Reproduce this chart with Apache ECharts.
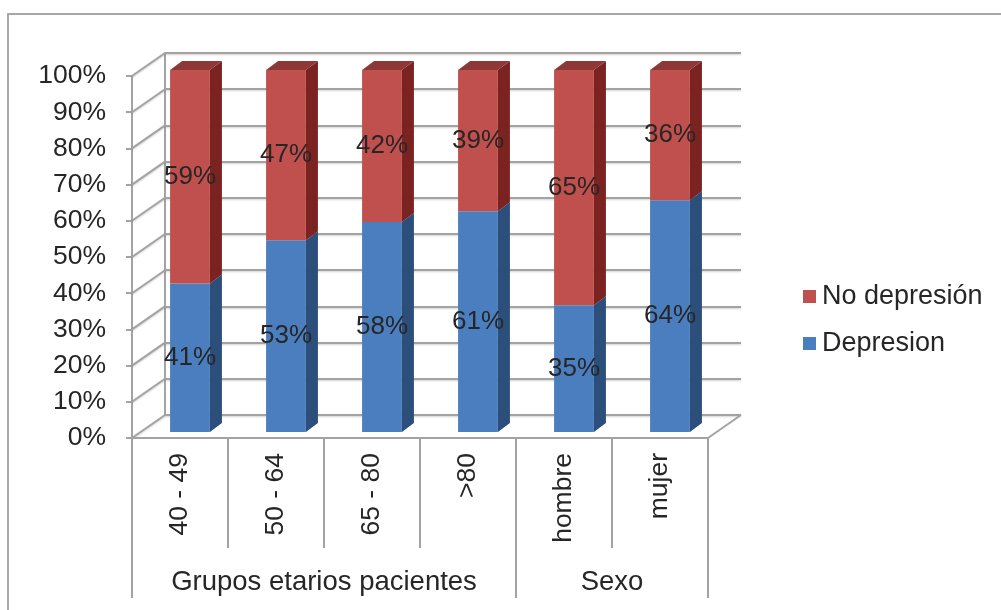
<!DOCTYPE html>
<html>
<head>
<meta charset="utf-8">
<script src="https://cdn.jsdelivr.net/npm/echarts@6/dist/echarts.min.js"></script>
<style>
  html, body { margin: 0; padding: 0; background: #ffffff; }
  #chart { width: 1001px; height: 610px; }
</style>
</head>
<body>
<div id="chart"></div>
<script>
// Categories and the two groups they belong to
const categories = ['40 - 49', '50 - 64', '65 - 80', '>80', 'hombre', 'mujer'];
const groupNames = ['Grupos etarios pacientes', 'Sexo'];
const groupSizes = [4, 2];

// Share of patients (%) per category
const depresion = [41, 53, 58, 61, 35, 64];
const noDepresion = [59, 47, 42, 39, 65, 36];

// Value axis ticks (%)
const yMin = 0, yMax = 100, yStep = 10;

// Styling
const FONT = '"Liberation Sans", Arial, sans-serif';
const TEXT = '#262626';
const GRID_GRAY = '#a3a3a3';
const RED = { front: '#C0504D', side: '#7A2320', top: '#8E3835' };
const BLUE = { front: '#4A7EBF', side: '#2C4E7A', top: '#3A6499' };

// Pseudo-3D depth of the plot box and of each bar
const DEPTH_X = 33, DEPTH_Y = -23;
const FACE_DX = 10, FACE_DY = -6;
const SIDE_DX = 12, SIDE_DY = -9;
const BAR_FRAC = 0.415;

// Group boundaries and centres on a 0..N scale
const groupBounds = [0];
const groupCentres = [];
groupSizes.forEach(n => {
  const start = groupBounds[groupBounds.length - 1];
  groupCentres.push(start + n / 2);
  groupBounds.push(start + n);
});

const yTicks = [];
for (let v = yMin; v <= yMax; v += yStep) yTicks.push(v);

const gridLine = {
  color: GRID_GRAY, width: 2,
  shadowColor: 'rgba(0,0,0,0.18)', shadowBlur: 2, shadowOffsetY: 1
};

function barItem(colors, isTopSegment) {
  return function (params, api) {
    const i = api.value(0), lo = api.value(1), val = api.value(2);
    const band = api.size([1, 0])[0];
    const w = band * BAR_FRAC;
    const pB = api.coord([i, lo]);
    const pT = api.coord([i, lo + val]);
    const xl = pB[0] - w / 2 + FACE_DX, xr = xl + w;
    const yb = pB[1] + FACE_DY, yt = pT[1] + FACE_DY;
    const children = [
      { type: 'polygon', shape: { points: [[xr, yt], [xr + SIDE_DX, yt + SIDE_DY], [xr + SIDE_DX, yb + SIDE_DY], [xr, yb]] },
        style: { fill: colors.side } },
      { type: 'rect', shape: { x: xl, y: yt, width: w, height: yb - yt },
        style: { fill: colors.front } }
    ];
    if (isTopSegment) {
      children.push({ type: 'polygon',
        shape: { points: [[xl, yt], [xl + SIDE_DX, yt + SIDE_DY], [xr + SIDE_DX, yt + SIDE_DY], [xr, yt]] },
        style: { fill: colors.top } });
    }
    children.push({ type: 'text', z2: 10,
      style: { text: val + '%', x: (xl + xr) / 2, y: (yt + yb) / 2, align: 'center', verticalAlign: 'middle',
               fill: TEXT, font: '26px ' + FONT } });
    return { type: 'group', children };
  };
}

// Side-wall lines and the floor outline
function roomItem(params, api) {
  const v = api.value(0);
  const children = [];
  const p = api.coord([0, v]);
  children.push({ type: 'line', shape: { x1: p[0], y1: p[1], x2: p[0] + DEPTH_X, y2: p[1] + DEPTH_Y },
    style: { stroke: GRID_GRAY, lineWidth: 2, shadowColor: 'rgba(0,0,0,0.18)', shadowBlur: 2, shadowOffsetY: 1 } });
  if (v === yMin) {
    const q = api.coord([categories.length, v]);
    children.push({ type: 'line', shape: { x1: q[0], y1: q[1], x2: q[0] + DEPTH_X, y2: q[1] + DEPTH_Y },
      style: { stroke: GRID_GRAY, lineWidth: 2 } });
  }
  return { type: 'group', children };
}

const chart = echarts.init(document.getElementById('chart'), null, { renderer: 'canvas' });

const GRID = { left: 132, top: 76, width: 576, height: 362 };

chart.setOption({
  animation: false,
  backgroundColor: '#ffffff',
  graphic: [{
    type: 'rect', silent: true, z: -10,
    shape: { x: 8, y: 14, width: 1100, height: 700 },
    style: { fill: 'none', stroke: '#a8a8a8', lineWidth: 2 }
  }],
  legend: {
    orient: 'vertical', left: 798, top: 278,
    itemWidth: 13, itemHeight: 13, itemGap: 20,
    textStyle: { fontSize: 27, fontFamily: FONT, color: TEXT, padding: [0, 0, 0, 1] },
    data: [
      { name: 'No depresión', icon: 'rect', itemStyle: { color: RED.front } },
      { name: 'Depresion', icon: 'rect', itemStyle: { color: BLUE.front } }
    ]
  },
  grid: [
    { left: GRID.left, top: GRID.top, width: GRID.width, height: GRID.height },
    { left: GRID.left + DEPTH_X, top: GRID.top + DEPTH_Y, width: GRID.width, height: GRID.height }
  ],
  xAxis: [
    {
      type: 'category', gridIndex: 0, data: categories, boundaryGap: true,
      axisLine: { show: true, lineStyle: { color: GRID_GRAY, width: 2 } },
      axisTick: { show: true, length: 110, alignWithLabel: false, lineStyle: { color: GRID_GRAY, width: 2 } },
      axisLabel: { rotate: 90, margin: 15, fontSize: 26.5, fontFamily: FONT, color: TEXT },
      splitLine: { show: false }, z: 3
    },
    {
      type: 'value', gridIndex: 1, min: 0, max: categories.length, show: false
    },
    {
      type: 'value', gridIndex: 0, min: 0, max: categories.length, position: 'bottom',
      axisLine: { show: false },
      axisTick: { show: true, length: 160, customValues: groupBounds, lineStyle: { color: GRID_GRAY, width: 2 } },
      axisLabel: {
        show: true, margin: 130, fontSize: 27.5, fontFamily: FONT, color: TEXT,
        customValues: groupCentres,
        formatter: v => { const k = groupCentres.indexOf(v); return k >= 0 ? groupNames[k] : ''; }
      },
      splitLine: { show: false }
    }
  ],
  yAxis: [
    {
      type: 'value', gridIndex: 0, min: yMin, max: yMax, interval: yStep,
      axisLine: { show: true, lineStyle: { color: GRID_GRAY, width: 2 } },
      axisTick: { show: true, length: 6, lineStyle: { color: GRID_GRAY, width: 2 } },
      axisLabel: { formatter: '{value}%', margin: 26, fontSize: 26.5, fontFamily: FONT, color: TEXT },
      splitLine: { show: false }
    },
    {
      type: 'value', gridIndex: 1, min: yMin, max: yMax, interval: yStep,
      axisLine: { show: true, lineStyle: { color: GRID_GRAY, width: 2 } },
      axisTick: { show: false }, axisLabel: { show: false },
      splitLine: { show: true, lineStyle: gridLine }
    }
  ],
  series: [
    {
      type: 'custom', name: 'room', xAxisIndex: 2, yAxisIndex: 0, silent: true, z: 1,
      data: yTicks.map(v => [v]), renderItem: roomItem
    },
    {
      type: 'custom', name: 'Depresion', xAxisIndex: 0, yAxisIndex: 0, z: 5,
      itemStyle: { color: BLUE.front },
      encode: { x: 0, y: 2 },
      data: depresion.map((v, i) => [i, 0, v]),
      renderItem: barItem(BLUE, false)
    },
    {
      type: 'custom', name: 'No depresión', xAxisIndex: 0, yAxisIndex: 0, z: 5,
      itemStyle: { color: RED.front },
      encode: { x: 0, y: 2 },
      data: noDepresion.map((v, i) => [i, depresion[i], v]),
      renderItem: barItem(RED, true)
    }
  ]
});
</script>
</body>
</html>
